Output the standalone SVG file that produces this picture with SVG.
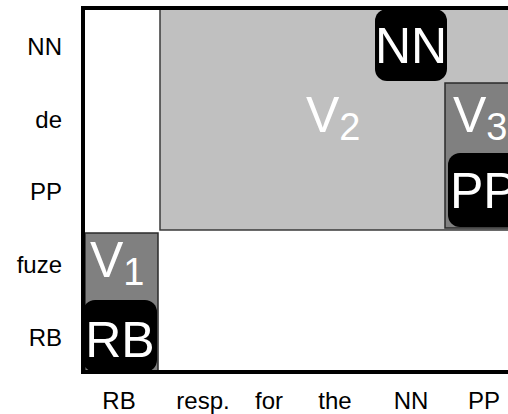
<svg xmlns="http://www.w3.org/2000/svg" width="508" height="414" viewBox="0 0 508 414">
  <style>
    text { font-family: "Liberation Sans", Arial, sans-serif; }
    .axis { font-size: 24px; fill: #000; }
    .row { text-anchor: end; }
    .col { text-anchor: middle; }
    .span-light { fill: #c0c0c0; stroke: #3a3a3a; stroke-width: 1.5; }
    .span-dark { fill: #808080; stroke: #2a2a2a; stroke-width: 1.5; }
    .tag { fill: #000; }
    .big { font-size: 50px; fill: #fff; }
    .sub { font-size: 38px; fill: #fff; }
    .frame { stroke: #000; stroke-width: 4; fill: none; }
  </style>

  <!-- row labels -->
  <g id="row-labels" class="axis row">
    <text x="62" y="55">NN</text>
    <text x="62" y="128">de</text>
    <text x="62" y="200">PP</text>
    <text x="62" y="273">fuze</text>
    <text x="62" y="346">RB</text>
  </g>

  <!-- column labels -->
  <g id="col-labels" class="axis col">
    <text x="119" y="409">RB</text>
    <text x="203" y="409">resp.</text>
    <text x="269" y="409">for</text>
    <text x="335" y="409">the</text>
    <text x="411" y="409">NN</text>
    <text x="484" y="409">PP</text>
  </g>

  <!-- span V2 -->
  <g id="v2">
    <rect class="span-light" x="160" y="9" width="360" height="221"/>
    <text x="306" y="132"><tspan class="big">V</tspan><tspan class="sub" dy="8">2</tspan></text>
  </g>

  <!-- span V3 -->
  <g id="v3">
    <rect class="span-dark" x="445" y="83" width="80" height="145"/>
    <text x="453" y="132"><tspan class="big">V</tspan><tspan class="sub" dy="8">3</tspan></text>
  </g>

  <!-- span V1 -->
  <g id="v1">
    <rect class="span-dark" x="85" y="233" width="73" height="139"/>
    <text x="90" y="277"><tspan class="big">V</tspan><tspan class="sub" dy="8">1</tspan></text>
  </g>

  <!-- head tags -->
  <g id="tag-nn">
    <rect class="tag" x="375" y="9" width="72" height="72" rx="12"/>
    <text class="big" x="411" y="63" text-anchor="middle">NN</text>
  </g>
  <g id="tag-pp">
    <rect class="tag" x="448" y="153" width="80" height="74" rx="12"/>
    <text class="big" x="450" y="208">PP</text>
  </g>
  <g id="tag-rb">
    <rect class="tag" x="83" y="300" width="74" height="72" rx="12"/>
    <text class="big" x="120" y="357" text-anchor="middle">RB</text>
  </g>

  <!-- chart frame -->
  <g id="connectors">
    <path class="frame" d="M508,8 H83 V372 H508"/>
  </g>
</svg>
